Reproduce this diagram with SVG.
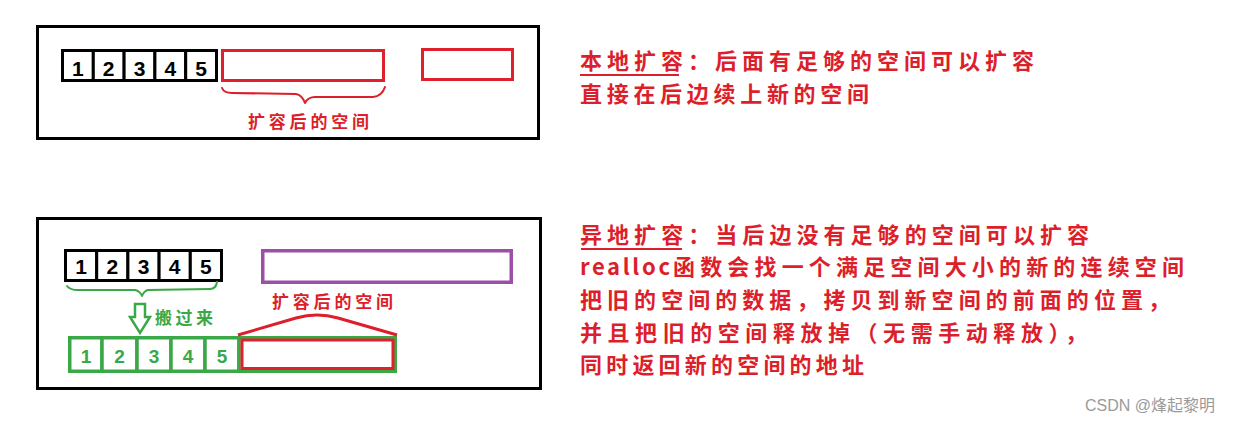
<svg xmlns="http://www.w3.org/2000/svg" width="1235" height="423" viewBox="0 0 1235 423">
<style>
.frame{fill:none;stroke:#000;stroke-width:3}
.bk{fill:#fff;stroke:#000;stroke-width:3}
.rd{fill:none;stroke:#e0202c;stroke-width:3}
.gr{fill:#fff;stroke:#3aa846;stroke-width:3.5}
.pu{fill:none;stroke:#9b4fa6;stroke-width:3.5}
.num{font-family:"Liberation Sans",Arial,sans-serif;font-weight:bold;text-anchor:middle}
.cn{font-family:"Noto Sans CJK SC","Noto Sans",sans-serif;font-weight:bold}
.red{fill:#dc1f2b}
.grn{fill:#3aa846}
.brace{fill:none;stroke-width:2;stroke-linecap:round;stroke-linejoin:round}
</style>
<rect width="1235" height="423" fill="#fff"/>

<g id="frame-top"><rect class="frame" x="37.5" y="26.5" width="501" height="112"/></g>
<g id="frame-bottom"><rect class="frame" x="37.5" y="218.5" width="503" height="170"/></g>

<g id="top-array">
<rect class="bk" x="62.5" y="50.5" width="30.8" height="30"/>
<rect class="bk" x="93.3" y="50.5" width="30.8" height="30"/>
<rect class="bk" x="124.1" y="50.5" width="30.8" height="30"/>
<rect class="bk" x="154.9" y="50.5" width="30.8" height="30"/>
<rect class="bk" x="185.7" y="50.5" width="30.8" height="30"/>
<text class="num" font-size="21" x="77.9" y="75.5">1</text>
<text class="num" font-size="21" x="108.7" y="75.5">2</text>
<text class="num" font-size="21" x="139.5" y="75.5">3</text>
<text class="num" font-size="21" x="170.3" y="75.5">4</text>
<text class="num" font-size="21" x="201.1" y="75.5">5</text>
</g>
<g id="top-extended"><rect class="rd" x="222.5" y="50.5" width="161" height="30"/></g>
<g id="top-other"><rect class="rd" x="422.5" y="49.5" width="90" height="30"/></g>
<g id="top-label"><text class="cn red" font-size="17" x="248" y="128" textLength="121" lengthAdjust="spacing">扩容后的空间</text></g>

<g id="bottom-array">
<rect class="bk" x="65.5" y="250.5" width="31.2" height="30"/>
<rect class="bk" x="96.7" y="250.5" width="31.2" height="30"/>
<rect class="bk" x="127.9" y="250.5" width="31.2" height="30"/>
<rect class="bk" x="159.1" y="250.5" width="31.2" height="30"/>
<rect class="bk" x="190.3" y="250.5" width="31.2" height="30"/>
<text class="num" font-size="21" x="81.1" y="273.5">1</text>
<text class="num" font-size="21" x="112.3" y="273.5">2</text>
<text class="num" font-size="21" x="143.5" y="273.5">3</text>
<text class="num" font-size="21" x="174.7" y="273.5">4</text>
<text class="num" font-size="21" x="205.9" y="273.5">5</text>
</g>
<g id="bottom-purple"><rect class="pu" x="262.75" y="250.75" width="248.5" height="31.5"/></g>
<g id="move-label"><text class="cn grn" font-size="17" x="155" y="324" textLength="58" lengthAdjust="spacing">搬过来</text></g>

<g id="new-array">
<rect class="gr" x="69.75" y="337.75" width="32.25" height="33.5"/>
<rect class="gr" x="102" y="337.75" width="35" height="33.5"/>
<rect class="gr" x="137" y="337.75" width="34" height="33.5"/>
<rect class="gr" x="171" y="337.75" width="34" height="33.5"/>
<rect class="gr" x="205" y="337.75" width="34" height="33.5"/>
<rect class="gr" x="239" y="337.75" width="156.25" height="33.5"/>
<rect class="rd" x="242" y="340" width="151" height="28.5" stroke-width="3.5"/>
<text class="num grn" font-size="19" x="86" y="363">1</text>
<text class="num grn" font-size="19" x="119.5" y="363">2</text>
<text class="num grn" font-size="19" x="154" y="363">3</text>
<text class="num grn" font-size="19" x="188" y="363">4</text>
<text class="num grn" font-size="19" x="222" y="363">5</text>
</g>
<g id="bottom-label"><text class="cn red" font-size="17" x="272" y="308" textLength="121" lengthAdjust="spacing">扩容后的空间</text></g>

<g id="connectors">
<path class="brace" stroke="#dc1f2b" stroke-width="2.5" d="M222,88 Q224,93 232,93 L296,94 Q302,95 305,103 Q308,97 315,97 L373,97 Q382,96 385,87"/>
<path class="brace" stroke="#3aa846" d="M67,286 Q70,290 78,290 L135,290 Q140,291 142,296 Q144,291 148,290 L210,289 Q216,289 217,282"/>
<path d="M135,304 L145,304 L145,317 L150,317 L140,333 L130,317 L135,317 Z" fill="#fff" stroke="#3aa846" stroke-width="2.5" stroke-linejoin="miter"/>
<path d="M238,335 L296,318 Q317,312 338,318 L397,335" fill="none" stroke="#dc1f2b" stroke-width="3" stroke-linejoin="round"/>
</g>

<g id="note-local">
<text class="cn red" font-size="22" x="580" y="69" textLength="454" lengthAdjust="spacing">本地扩容：后面有足够的空间可以扩容</text>
<line x1="580" y1="75" x2="679" y2="75" stroke="#dc1f2b" stroke-width="2"/>
<text class="cn red" font-size="22" x="580" y="102" textLength="289" lengthAdjust="spacing">直接在后边续上新的空间</text>
</g>

<g id="note-remote">
<text class="cn red" font-size="22" x="580" y="243" textLength="509" lengthAdjust="spacing">异地扩容：当后边没有足够的空间可以扩容</text>
<line x1="581" y1="249" x2="682" y2="249" stroke="#dc1f2b" stroke-width="2"/>
<text class="cn red" font-size="22" y="275"><tspan x="580" textLength="90" lengthAdjust="spacing">realloc</tspan><tspan x="673" textLength="511" lengthAdjust="spacing">函数会找一个满足空间大小的新的连续空间</tspan></text>
<text class="cn red" font-size="22" x="580" y="308" textLength="590" lengthAdjust="spacing">把旧的空间的数据，拷贝到新空间的前面的位置，</text>
<text class="cn red" font-size="22" x="580" y="341" textLength="507" lengthAdjust="spacing">并且把旧的空间释放掉（无需手动释放），</text>
<text class="cn red" font-size="22" x="580" y="373" textLength="284" lengthAdjust="spacing">同时返回新的空间的地址</text>
</g>

<g id="watermark"><text font-family="'Liberation Sans','Noto Sans CJK SC',sans-serif" font-size="16" fill="#9a9a9a" x="1085" y="411">CSDN @烽起黎明</text></g>
</svg>
